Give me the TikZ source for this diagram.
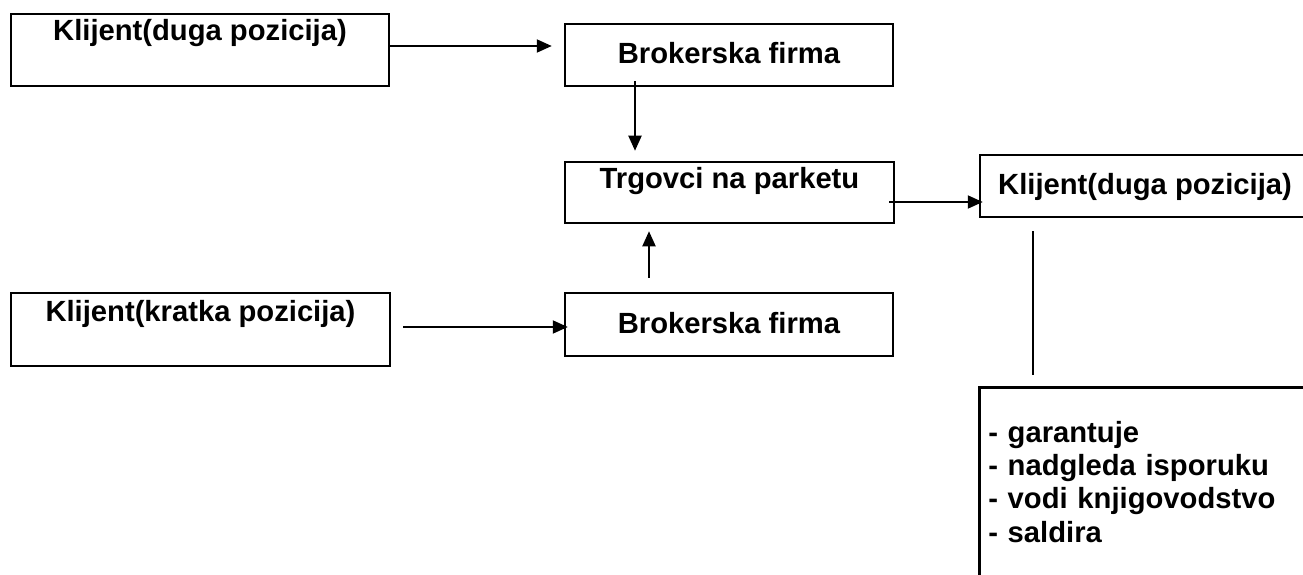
\documentclass[tikz,border=0pt]{standalone}
\usepackage{fontspec}
\setmainfont{Liberation Sans}
\usetikzlibrary{arrows.meta}

\begin{document}
\begin{tikzpicture}[x=1pt, y=1pt]
  \tikzstyle{mybox}=[draw, line width=2.5pt, inner xsep=0pt, inner ysep=0pt, anchor=base, font=\fontsize{29.2}{33.3}\selectfont\bfseries];
  \tikzstyle{myconn}=[line width=2pt, -{Triangle[length=15pt, width=13pt]}];
  \tikzstyle{myline}=[line width=1.5pt];
  %
  \clip (0, 0) rectangle (1303, 574);
  \fill[white] (0, 0) rectangle (1303, 574);
  %
  % clients
  \node[mybox, minimum width=378pt, text height=27pt, text depth=45pt] (kd1) at (200, 533) {Klijent(duga pozicija)};
  \node[mybox, minimum width=379pt, text height=28pt, text depth=45pt] (kk) at (200.5, 253) {Klijent(kratka pozicija)};
  %
  % brokers and floor traders
  \node[mybox, minimum width=328pt, text height=40pt, text depth=22pt] (bf1) at (729, 510) {Brokerska firma};
  \node[mybox, minimum width=329pt, text height=27pt, text depth=34pt] (tp) at (729.5, 385) {Trgovci na parketu};
  \node[mybox, minimum width=328pt, text height=40pt, text depth=23pt] (bf2) at (729, 241) {Brokerska firma};
  %
  % long client and its tasks
  \node[mybox, minimum width=330pt, text height=39pt, text depth=23pt] (kd2) at (1145, 380) {Klijent(duga pozicija)};
  \node[mybox, anchor=north west, text width=380pt, align=left, inner xsep=9pt, text height=55pt, text depth=200pt] (fn) at (978, 188)
    {- garantuje\\- nadgleda isporuku\\- vodi knjigovodstvo\\- saldira};
  %
  % connections
  \draw[myconn, shorten >=12pt] ([yshift=4pt]kd1.east) -- ([yshift=9pt]bf1.west);
  \draw[myconn, shorten <=-6pt, shorten >=10pt] ([xshift=-94pt]bf1.south) -- ([xshift=-94.5pt]tp.north);
  \draw[myconn, shorten <=14pt, shorten >=7pt] ([xshift=-80pt]bf2.north) -- ([xshift=-80.5pt]tp.south);
  \draw[myconn, shorten <=12pt, shorten >=-4pt] ([yshift=2.5pt]kk.east) -- ([yshift=-2.5pt]bf2.west);
  \draw[myconn, shorten <=-6pt, shorten >=-4pt] ([yshift=-9.5pt]tp.east) -- ([yshift=-16pt]kd2.west);
  %
  \coordinate (kdfoot) at ([xshift=-112pt]kd2.south);
  \draw[myline, shorten <=13pt, shorten >=11pt] (kdfoot) -- (kdfoot |- fn.north);
\end{tikzpicture}
\end{document}
